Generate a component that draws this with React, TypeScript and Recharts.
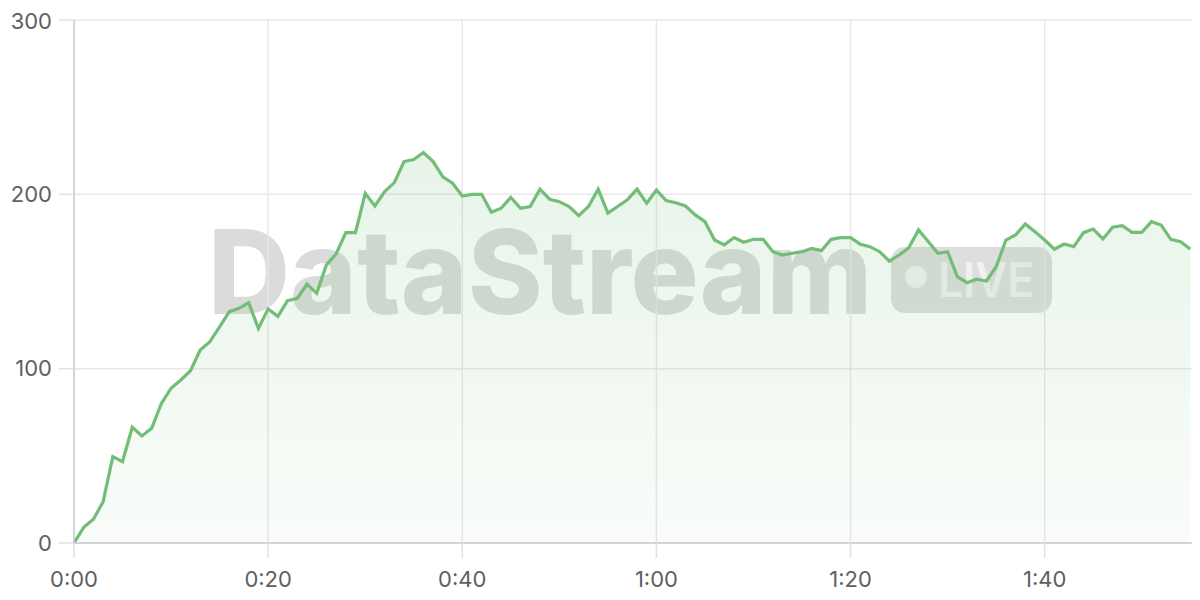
import React from "react";
import { AreaChart, Area, XAxis, YAxis, CartesianGrid } from "recharts";

// viewers per second, t = 0..115
const viewers: number[] = [
  0, 9, 13.6, 23.7, 49.5, 46.6, 66.4, 61.4, 65.8, 80,
  88.8, 93.5, 98.8, 110.7, 115.5, 124, 132.7, 134.6, 137.9, 123,
  134.3, 130, 139, 140.4, 148.4, 143.3, 159.5, 165.8, 178, 178,
  200.6, 193.3, 201.6, 206.7, 218.8, 220, 224, 218.8, 210, 206.4,
  199, 200, 200, 189.7, 192, 198.3, 192, 193, 203, 197.2,
  195.8, 193, 187.8, 193, 203, 189.2, 193, 196.8, 203, 194.9,
  202.5, 196.4, 195.2, 193.3, 188.2, 184.3, 173.8, 171, 175.2, 172.5,
  174.2, 174.2, 167.1, 165.2, 166.2, 167.1, 169, 167.7, 174.2, 175.2,
  175.2, 171.4, 170, 167.1, 161.7, 165.2, 169.4, 179.6, 172.9, 166.2,
  167.1, 152.8, 149.3, 151.3, 150.3, 158.5, 173.8, 176.7, 183, 178.6,
  173.8, 168.5, 171.5, 170, 178, 180.1, 174.4, 181.1, 182, 178.2,
  178.2, 184.3, 182.4, 174.2, 172.8, 168.6,
];
const seconds: number[] = viewers.map((_, i) => i);
const xTicks: number[] = [0, 20, 40, 60, 80, 100];
const yTicks: number[] = [0, 100, 200, 300];
const watermarkTitle = "DataStream";
const watermarkBadge = "LIVE";

const data = seconds.map((t, i) => ({ t, v: viewers[i] }));

const fmt = (s: number) => {
  const m = Math.floor(s / 60);
  const r = s % 60;
  return `${m}:${r < 10 ? "0" : ""}${r}`;
};

const FONT = "Inter, 'Open Sans', 'DejaVu Sans', sans-serif";
const GREEN = "#72bd77";

export default function App() {
  return (
    <div style={{ position: "relative", width: 1192, height: 592, fontFamily: FONT }}>
      <svg
        width={1192}
        height={592}
        style={{ position: "absolute", left: 0, top: 0 }}
      >
        <text
          x={200}
          y={306}
          fontSize={117}
          fontWeight={800}
          fontFamily={FONT}
          fill="rgba(0,0,0,0.14)"
          textLength={664}
          lengthAdjust="spacingAndGlyphs"
        >
          {watermarkTitle}
        </text>
        <rect x={883} y={239} width={161} height={66} rx={14} fill="rgba(0,0,0,0.13)" />
        <circle cx={908} cy={269} r={11} fill="rgba(255,255,255,0.6)" />
        <text
          x={930}
          y={289}
          fontSize={48}
          fontWeight={600}
          fontFamily={FONT}
          fill="rgba(255,255,255,0.6)"
          textLength={96}
          lengthAdjust="spacingAndGlyphs"
        >
          {watermarkBadge}
        </text>
      </svg>
      <div style={{ position: "absolute", left: 0, top: 0 }}>
        <AreaChart
          width={1192}
          height={592}
          data={data}
          margin={{ top: 12, right: 0, bottom: 0, left: 0 }}
        >
          <defs>
            <linearGradient id="fillGreen" x1="0" y1="0" x2="0" y2="1">
              <stop offset="0%" stopColor={GREEN} stopOpacity={0.28} />
              <stop offset="100%" stopColor={GREEN} stopOpacity={0.07} />
            </linearGradient>
          </defs>
          <CartesianGrid stroke="#e8e8e8" strokeWidth={1.5} />
          <XAxis
            dataKey="t"
            type="number"
            domain={[0, 116]}
            ticks={xTicks}
            tickFormatter={fmt}
            height={57}
            tickSize={15}
            tickMargin={13}
            axisLine={{ stroke: "#cccccc", strokeWidth: 1.5 }}
            tickLine={{ stroke: "#e2e2e2", strokeWidth: 1.5 }}
            tick={{ fill: "#606060", fontSize: 22, fontFamily: FONT }}
          />
          <YAxis
            type="number"
            domain={[0, 300]}
            ticks={yTicks}
            width={66}
            tickSize={15}
            tickMargin={7}
            axisLine={{ stroke: "#cccccc", strokeWidth: 1.5 }}
            tickLine={{ stroke: "#e2e2e2", strokeWidth: 1.5 }}
            tick={{ fill: "#606060", fontSize: 22, fontFamily: FONT }}
          />
          <Area
            type="linear"
            dataKey="v"
            stroke={GREEN}
            strokeWidth={3.2}
            fill="url(#fillGreen)"
            isAnimationActive={false}
            dot={false}
            activeDot={false}
          />
        </AreaChart>
      </div>
    </div>
  );
}
